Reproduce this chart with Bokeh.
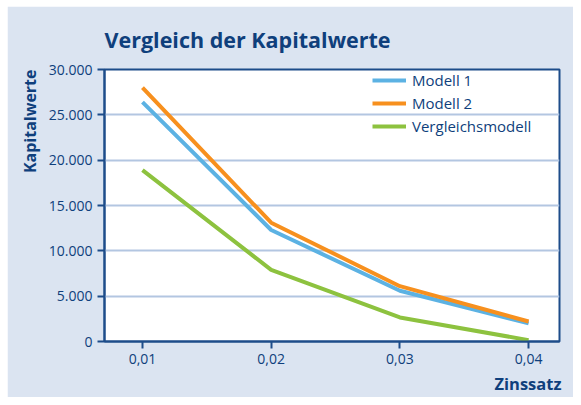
from bokeh.plotting import figure
from bokeh.models import (Range1d, FixedTicker, CustomJSTickFormatter, Legend, LegendItem, Title, Spacer)
from bokeh.layouts import column, row
from bokeh.embed import file_html
from bokeh.resources import INLINE

zinssatz = [0.01, 0.02, 0.03, 0.04]
modell_1 = [26400, 12300, 5600, 2000]
modell_2 = [28000, 13100, 6100, 2200]
vergleichsmodell = [18900, 7900, 2650, 150]
y_ticks = [0, 5000, 10000, 15000, 20000, 25000, 30000]

BG = "#dbe4f1"
NAVY = "#0f3f7c"
AXIS = "#1d4c8a"
GRID = "#b3c6e1"
FONT = "Open Sans"

p = figure(width=566, height=391, output_backend="svg", toolbar_location=None,
           x_range=Range1d(0.00705, 0.0424), y_range=Range1d(0, 30000),
           min_border_left=97, min_border_right=14, min_border_top=63, min_border_bottom=56)
p.background_fill_color = "white"
p.border_fill_color = BG
p.outline_line_color = AXIS
p.outline_line_width = 2

p.title.text = "Vergleich der Kapitalwerte"
p.title.text_font = FONT
p.title.text_font_size = "21.5px"
p.title.text_font_style = "bold"
p.title.text_color = NAVY
p.title.align = "left"
p.title.standoff = 31

r1 = p.line(zinssatz, modell_1, line_color="#5cb2e3", line_width=4)
r2 = p.line(zinssatz, modell_2, line_color="#f7901e", line_width=4)
r3 = p.line(zinssatz, vergleichsmodell, line_color="#8dc23f", line_width=4)

p.xgrid.visible = False
p.ygrid.grid_line_color = GRID
p.ygrid.grid_line_width = 2

p.xaxis.ticker = FixedTicker(ticks=zinssatz)
p.yaxis.ticker = FixedTicker(ticks=y_ticks)
p.xaxis.formatter = CustomJSTickFormatter(code="return tick.toFixed(2).replace('.', ',');")
p.yaxis.formatter = CustomJSTickFormatter(code="return tick.toFixed(0).replace(/\\B(?=(\\d{3})+(?!\\d))/g, '.');")
for ax in (p.xaxis[0], p.yaxis[0]):
    ax.axis_line_color = AXIS
    ax.axis_line_width = 2
    ax.major_tick_line_color = AXIS
    ax.major_tick_line_width = 2
    ax.major_tick_out = 7
    ax.major_tick_in = 0
    ax.minor_tick_line_color = None
    ax.major_label_text_font = FONT
    ax.major_label_text_font_size = "14px"
    ax.major_label_text_color = NAVY
    ax.major_label_standoff = 5

p.add_layout(Title(text="Zinssatz", align="right", text_font=FONT, text_font_size="16.5px",
                   text_font_style="bold", text_color=NAVY, standoff=6, offset=-2), "below")
p.add_layout(Title(text="Kapitalwerte", align="right", text_font=FONT, text_font_size="16px",
                   text_font_style="bold", text_color=NAVY), "left")

legend = Legend(items=[LegendItem(label="Modell 1", renderers=[r1]),
                       LegendItem(label="Modell 2", renderers=[r2]),
                       LegendItem(label="Vergleichsmodell", renderers=[r3])],
                location=(268, 205), padding=0, margin=0, spacing=3,
                glyph_width=34, glyph_height=20, label_height=20, label_standoff=6,
                label_text_font=FONT, label_text_font_size="15px", label_text_color=NAVY,
                border_line_color=None, background_fill_alpha=0)
p.add_layout(legend)

page = column(Spacer(height=6), row(Spacer(width=7), p))
open("out.html", "w").write(file_html(page, INLINE))
